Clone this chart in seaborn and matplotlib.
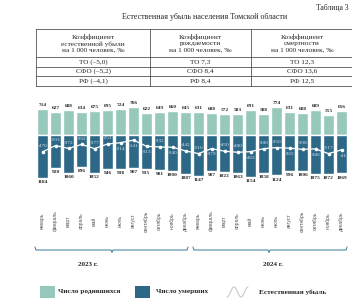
import numpy as np
import matplotlib
matplotlib.use("Agg")
import matplotlib.pyplot as plt
import matplotlib.transforms as mtransforms
from matplotlib.patches import Rectangle
import seaborn as sns

# Monthly figures, Tomsk region, 2023-2024
months = ['январь', 'февраль', 'март', 'апрель', 'май', 'июнь',
          'июль', 'август', 'сентябрь', 'октябрь', 'ноябрь', 'декабрь']
years = ['2023 г.', '2024 г.']
births = [714, 627, 688, 634, 675, 695, 724, 766, 622, 649, 660, 645,
          631, 608, 572, 583, 691, 588, 774, 631, 608, 689, 555, 656]
deaths = [1184, 920, 1060, 896, 1052, 946, 938, 907, 935, 981, 1000, 1087,
          1147, 987, 1022, 1063, 1154, 1058, 1124, 996, 1006, 1075, 1072, 1069]
decrease = [-470, -293, -372, -262, -377, -251, -214, -141, -313, -332, -340, -442,
            -516, -379, -450, -480, -463, -380, -350, -365, -398, -386, -517, -413]
# 1 = label above the point, -1 = below
label_side = [1, 1, 1, 1, 1, 1, -1, -1, -1, 1, -1, 1,
              1, -1, 1, 1, -1, 1, 1, -1, 1, -1, 1, -1]

table_header = ['Коэффициент\nестественной убыли\nна 1 000 человек, ‰',
                'Коэффициент\nрождаемости\nна 1 000 человек, ‰',
                'Коэффициент\nсмертности\nна 1 000 человек, ‰']
table_rows = [['ТО (–5,0)', 'ТО 7,3', 'ТО 12,3'],
              ['СФО (–5,2)', 'СФО 8,4', 'СФО 13,6'],
              ['РФ (–4,1)', 'РФ 8,4', 'РФ 12,5']]
legend_labels = ['Число родившихся', 'Число умерших', 'Естественная убыль']

c_birth = '#96c8bb'
c_death = '#2e6887'
c_brace = '#4f88a5'

sns.set_style('white')
plt.rcParams['font.family'] = ['Liberation Serif', 'DejaVu Serif']

W, H = 352, 305
fig = plt.figure(figsize=(W / 100, H / 100), dpi=100)

# overlay in pixel coordinates for the table, braces and legend
ov = fig.add_axes([0, 0, 1, 1])
ov.set_xlim(0, W)
ov.set_ylim(H, 0)
ov.axis('off')

ov.text(349, 8, 'Таблица 3', ha='right', va='center', fontsize=5.5)
ov.text(205, 17, 'Естественная убыль населения Томской области',
        ha='center', va='center', fontsize=5.8)

# table grid
col_x = [36, 150, 251, 353]
row_y = [29, 57, 66.5, 76, 85.5]
for y in row_y:
    ov.plot([36, 352], [y, y], color='#333333', lw=0.5)
for x in col_x[:3]:
    ov.plot([x, x], [29, 85.5], color='#333333', lw=0.5)
for j in range(3):
    cx = (col_x[j] + col_x[j + 1]) / 2
    ov.text(cx, 43.5, table_header[j], ha='center', va='center',
            fontsize=5.2, linespacing=1.25)
    for r in range(3):
        ov.text(cx, (row_y[r + 1] + row_y[r + 2]) / 2, table_rows[r][j],
                ha='center', va='center', fontsize=5.2)

# chart
ax = fig.add_axes([36 / W, 1 - 185 / H, 312 / W, 85 / H])
ax.patch.set_alpha(0)
x = np.arange(len(births))
sns.barplot(x=x, y=births, color=c_birth, width=0.92, saturation=1, ax=ax)
sns.barplot(x=x, y=[-d for d in deaths], color=c_death, width=0.92, saturation=1, ax=ax)
sns.lineplot(x=x, y=decrease, color='white', lw=0.9, marker='o', markersize=2.6,
             markeredgewidth=0, ax=ax)
ax.set_xlim(-0.5, len(births) - 0.5)
ax.set_ylim(-(185 - 135) / 0.036, (135 - 100) / 0.036)
ax.axis('off')

for i in x:
    ax.annotate(str(births[i]), (i, births[i]), xytext=(0, 1.5),
                textcoords='offset points', ha='center', va='bottom',
                fontsize=3.9, fontweight='bold')
    ax.annotate(str(deaths[i]), (i, -deaths[i]), xytext=(0, -1.5),
                textcoords='offset points', ha='center', va='top',
                fontsize=3.9, fontweight='bold')
    dx = 2.5 if i == len(x) - 1 else 0
    ax.annotate(str(decrease[i]), (i, decrease[i]),
                xytext=(dx, 4.2 * label_side[i]), textcoords='offset points',
                ha='center', va='center', fontsize=3.8, color='#d3e4ee',
                annotation_clip=False)

# month names below the chart
tr = mtransforms.blended_transform_factory(ax.transData, ov.transData)
for i in x:
    ax.text(i, 221, months[i % 12], transform=tr, rotation=90, ha='center',
            va='center', fontsize=3.6, color='#555555',
            family=['Liberation Sans', 'DejaVu Sans'])

# year braces
for (x0, xm, x1), yl, xl in zip([(35, 112, 188), (193, 269, 347)], years, [88, 273]):
    ov.plot([x0, x0 + 1, xm - 1, xm, xm + 1, x1 - 1, x1],
            [247, 250, 250, 252.5, 250, 250, 247], color=c_brace, lw=0.8)
    ov.text(xl, 264, yl, ha='center', va='center', fontsize=5, fontweight='bold')

# legend
ov.add_patch(Rectangle((40, 286), 15, 12, color=c_birth, lw=0))
ov.add_patch(Rectangle((135, 286), 15, 12, color=c_death, lw=0))
t = np.linspace(0, 1, 60)
ov.plot(227 + 21 * t, 292 + 5 * np.cos(3 * np.pi * t), color='#c8c8c8', lw=0.8)
for xt, lab in zip([58, 156, 259], legend_labels):
    ov.text(xt, 292, lab, ha='left', va='center', fontsize=5.2, fontweight='bold')

fig.savefig('out.png', dpi=100)
